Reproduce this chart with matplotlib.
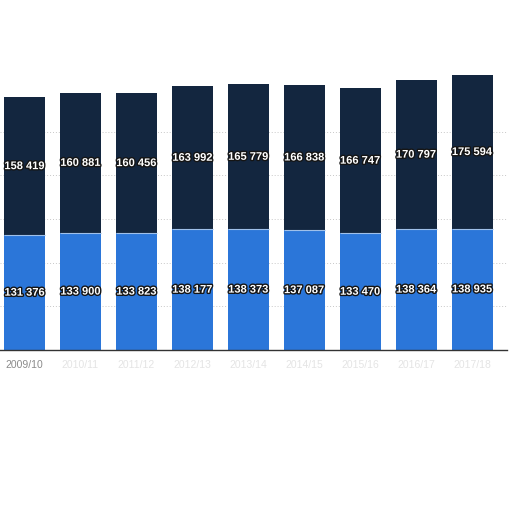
import numpy as np
import matplotlib
matplotlib.use("Agg")
from matplotlib import pyplot as plt
import matplotlib.patheffects as pe

# seasons (x categories) and the two stacked series
seasons = ["2009/10", "2010/11", "2011/12", "2012/13", "2013/14",
           "2014/15", "2015/16", "2016/17", "2017/18"]
lower = [131376, 133900, 133823, 138177, 138373, 137087, 133470, 138364, 138935]
upper = [158419, 160881, 160456, 163992, 165779, 166838, 166747, 170797, 175594]

COL_LOW = "#2b76d9"
COL_UP = "#13263f"

fig = plt.figure(figsize=(5.12, 5.12), dpi=100)
ax = fig.add_axes([0.0, 1 - 350 / 512, 507 / 512, 280 / 512])

x = np.arange(len(seasons))
w = 0.733
ax.bar(x, lower, w, color=COL_LOW, zorder=2)
ax.bar(x, upper, w, bottom=lower, color=COL_UP, zorder=2)
# thin light seam between the two segments
ax.hlines(lower, x - w / 2, x + w / 2, color="#9fc0ea", linewidth=0.8, zorder=2.5)

# white labels with a dark outline
outline = [pe.withStroke(linewidth=2.0, foreground="#151515")]
def fmt(v):
    return f"{v:,}".replace(",", " ")

for i in range(len(seasons)):
    ax.text(x[i], lower[i] / 2, fmt(lower[i]), ha="center", va="center",
            color="white", fontsize=8, fontweight="bold",
            family="Liberation Sans", path_effects=outline, zorder=3)
    ax.text(x[i], lower[i] + upper[i] / 2, fmt(upper[i]), ha="center",
            va="center", color="white", fontsize=8, fontweight="bold",
            family="Liberation Sans", path_effects=outline, zorder=3)

ax.set_xlim(-0.438, 8.625)
ax.set_ylim(0, 320700)

# top of the chart is torn off, so only the lower gridlines show
ax.set_yticks(np.arange(50000, 250001, 50000))
ax.yaxis.grid(True, linestyle=(0, (1, 2)), color="#c8c8c8", linewidth=0.7)
ax.tick_params(left=False, labelleft=False, bottom=False)

ax.set_xticks(x)
ax.set_xticklabels(seasons, fontsize=7.5, family="Liberation Sans")
for i, lab in enumerate(ax.get_xticklabels()):
    lab.set_color("#8a8a8a" if i == 0 else "#e4e4e4")
ax.tick_params(axis="x", pad=4)

for s in ["top", "left", "right"]:
    ax.spines[s].set_visible(False)
ax.spines["bottom"].set_color("#333333")
ax.spines["bottom"].set_linewidth(1.0)

fig.savefig("out.png", dpi=100)
